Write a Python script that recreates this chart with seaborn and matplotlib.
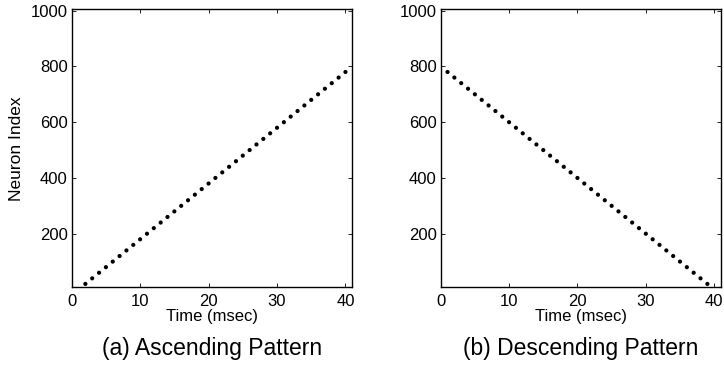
import matplotlib
matplotlib.use("Agg")
import matplotlib.pyplot as plt
import seaborn as sns
import pandas as pd

# Ascending pattern
asc_time = [2, 3, 4, 5, 6, 7, 8, 9, 10, 11, 12, 13, 14, 15, 16, 17, 18, 19, 20, 21,
            22, 23, 24, 25, 26, 27, 28, 29, 30, 31, 32, 33, 34, 35, 36, 37, 38, 39, 40]
asc_index = [20, 40, 60, 80, 100, 120, 140, 160, 180, 200, 220, 240, 260, 280, 300, 320,
             340, 360, 380, 400, 420, 440, 460, 480, 500, 520, 540, 560, 580, 600, 620,
             640, 660, 680, 700, 720, 740, 760, 780]

# Descending pattern
desc_time = [1, 2, 3, 4, 5, 6, 7, 8, 9, 10, 11, 12, 13, 14, 15, 16, 17, 18, 19, 20,
             21, 22, 23, 24, 25, 26, 27, 28, 29, 30, 31, 32, 33, 34, 35, 36, 37, 38, 39]
desc_index = [780, 760, 740, 720, 700, 680, 660, 640, 620, 600, 580, 560, 540, 520, 500,
              480, 460, 440, 420, 400, 380, 360, 340, 320, 300, 280, 260, 240, 220, 200,
              180, 160, 140, 120, 100, 80, 60, 40, 20]

x_ticks = [0, 10, 20, 30, 40]
y_ticks = [200, 400, 600, 800, 1000]
captions = ["(a) Ascending Pattern", "(b) Descending Pattern"]

sns.set_theme(style="ticks")
plt.rcParams['font.family'] = ['Liberation Sans', 'DejaVu Sans']
plt.rcParams['text.color'] = 'black'
plt.rcParams['axes.labelcolor'] = 'black'

fig = plt.figure(figsize=(7.24, 3.66), dpi=100)
ax1 = fig.add_axes([0.099, 0.2167, 0.3876, 0.758])
ax2 = fig.add_axes([0.6087, 0.2167, 0.3872, 0.758])

dfa = pd.DataFrame({"t": asc_time, "n": asc_index})
dfd = pd.DataFrame({"t": desc_time, "n": desc_index})

cap_x = [212 / 724, 581 / 724]
for ax, df, cap, cx in [(ax1, dfa, captions[0], cap_x[0]),
                        (ax2, dfd, captions[1], cap_x[1])]:
    sns.scatterplot(data=df, x="t", y="n", ax=ax, color="black", s=9,
                    edgecolor="none", linewidth=0)
    ax.set_xlim(0, 41)
    ax.set_ylim(10, 1005)
    ax.set_xticks(x_ticks)
    ax.set_yticks(y_ticks)
    ax.tick_params(direction="in", length=3, width=0.6, labelsize=12,
                   top=True, right=True, colors="black")
    ax.tick_params(axis="y", pad=3)
    ax.tick_params(axis="x", pad=5)
    for s in ax.spines.values():
        s.set_linewidth(1.0)
        s.set_color("black")
    ax.set_xlabel("Time (msec)", fontsize=12, labelpad=0, color="black")
    ax.set_ylabel("")
    fig.text(cx, 1 - 349 / 366, cap, ha="center", va="center", fontsize=16.5,
             color="black")

fig.text(17 / 724, 1 - 149 / 366, "Neuron Index", rotation=90,
         ha="center", va="center", fontsize=12.5, color="black")

fig.savefig("out.png", dpi=100)
